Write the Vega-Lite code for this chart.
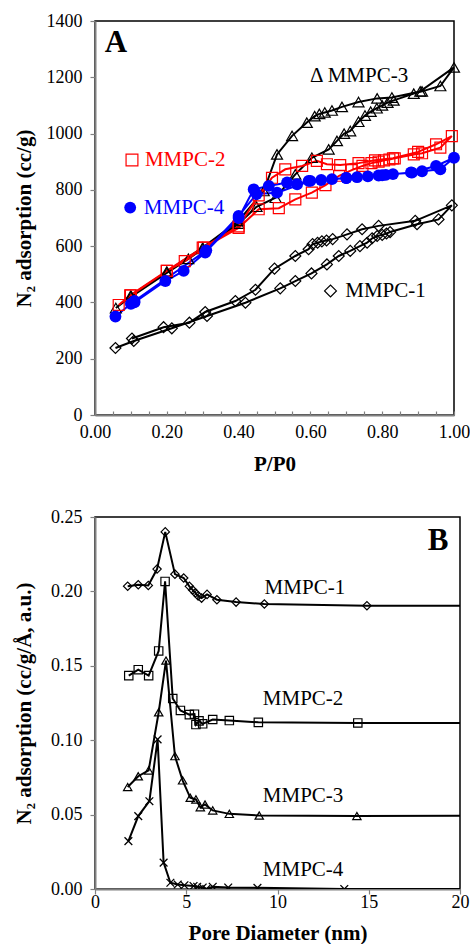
{
 "$schema": "https://vega.github.io/schema/vega-lite/v6.json",
 "padding": {"left": 12, "top": 11, "right": 5, "bottom": 0},
 "bounds": "flush",
 "spacing": 102,
 "config": {
  "font": "Liberation Serif",
  "view": {"stroke": "black", "strokeWidth": 1.5},
  "axis": {"grid": false, "labelFlush": false, "labelFont": "Liberation Serif", "titleFont": "Liberation Serif", "labelFontSize": 18, "titleFontSize": 21, "titleFontWeight": "bold", "labelColor": "black", "titleColor": "black", "domainColor": "#808080", "domainWidth": 2, "tickColor": "#808080", "tickWidth": 1.2, "tickSize": 5},
  "axisY": {"labelPadding": 8, "titleBaseline": "middle", "titleX": -71},
  "text": {"font": "Liberation Serif"}
 },
 "datasets": {
  "a": [
   {"s":"MMPC-1","i":1,"P":0.057,"v":238},{"s":"MMPC-1","i":2,"P":0.108,"v":263},{"s":"MMPC-1","i":3,"P":0.214,"v":308},{"s":"MMPC-1","i":4,"P":0.312,"v":352},{"s":"MMPC-1","i":5,"P":0.419,"v":399},{"s":"MMPC-1","i":6,"P":0.516,"v":450},{"s":"MMPC-1","i":7,"P":0.558,"v":476},{"s":"MMPC-1","i":8,"P":0.603,"v":503},{"s":"MMPC-1","i":9,"P":0.646,"v":535},{"s":"MMPC-1","i":10,"P":0.679,"v":565},{"s":"MMPC-1","i":11,"P":0.711,"v":583},{"s":"MMPC-1","i":12,"P":0.738,"v":600},{"s":"MMPC-1","i":13,"P":0.758,"v":612},{"s":"MMPC-1","i":14,"P":0.772,"v":628},{"s":"MMPC-1","i":15,"P":0.786,"v":636},{"s":"MMPC-1","i":16,"P":0.800,"v":640},{"s":"MMPC-1","i":17,"P":0.812,"v":645},{"s":"MMPC-1","i":18,"P":0.822,"v":650},{"s":"MMPC-1","i":19,"P":0.897,"v":678},{"s":"MMPC-1","i":20,"P":0.957,"v":695},{"s":"MMPC-1","i":21,"P":0.994,"v":745},{"s":"MMPC-1","i":22,"P":0.892,"v":690},{"s":"MMPC-1","i":23,"P":0.790,"v":672},{"s":"MMPC-1","i":24,"P":0.744,"v":660},{"s":"MMPC-1","i":25,"P":0.702,"v":642},{"s":"MMPC-1","i":26,"P":0.662,"v":625},{"s":"MMPC-1","i":27,"P":0.645,"v":620},{"s":"MMPC-1","i":28,"P":0.632,"v":617},{"s":"MMPC-1","i":29,"P":0.620,"v":612},{"s":"MMPC-1","i":30,"P":0.606,"v":607},{"s":"MMPC-1","i":31,"P":0.595,"v":589},{"s":"MMPC-1","i":32,"P":0.558,"v":565},{"s":"MMPC-1","i":33,"P":0.500,"v":520},{"s":"MMPC-1","i":34,"P":0.447,"v":445},{"s":"MMPC-1","i":35,"P":0.391,"v":405},{"s":"MMPC-1","i":36,"P":0.307,"v":366},{"s":"MMPC-1","i":37,"P":0.263,"v":328},{"s":"MMPC-1","i":38,"P":0.191,"v":312},{"s":"MMPC-1","i":39,"P":0.103,"v":272},
   {"s":"MMPC-3","i":1,"P":0.058,"v":380},{"s":"MMPC-3","i":2,"P":0.100,"v":420},{"s":"MMPC-3","i":3,"P":0.200,"v":505},{"s":"MMPC-3","i":4,"P":0.260,"v":555},{"s":"MMPC-3","i":5,"P":0.300,"v":590},{"s":"MMPC-3","i":6,"P":0.400,"v":680},{"s":"MMPC-3","i":7,"P":0.450,"v":740},{"s":"MMPC-3","i":8,"P":0.503,"v":772},{"s":"MMPC-3","i":9,"P":0.558,"v":855},{"s":"MMPC-3","i":10,"P":0.604,"v":914},{"s":"MMPC-3","i":11,"P":0.651,"v":944},{"s":"MMPC-3","i":12,"P":0.674,"v":974},{"s":"MMPC-3","i":13,"P":0.694,"v":1000},{"s":"MMPC-3","i":14,"P":0.711,"v":1009},{"s":"MMPC-3","i":15,"P":0.734,"v":1042},{"s":"MMPC-3","i":16,"P":0.752,"v":1064},{"s":"MMPC-3","i":17,"P":0.768,"v":1078},{"s":"MMPC-3","i":18,"P":0.785,"v":1090},{"s":"MMPC-3","i":19,"P":0.800,"v":1100},{"s":"MMPC-3","i":20,"P":0.815,"v":1110},{"s":"MMPC-3","i":21,"P":0.832,"v":1118},{"s":"MMPC-3","i":22,"P":0.888,"v":1142},{"s":"MMPC-3","i":23,"P":0.911,"v":1150},{"s":"MMPC-3","i":24,"P":0.962,"v":1169},{"s":"MMPC-3","i":25,"P":1.000,"v":1235},{"s":"MMPC-3","i":26,"P":0.906,"v":1150},{"s":"MMPC-3","i":27,"P":0.827,"v":1128},{"s":"MMPC-3","i":28,"P":0.786,"v":1125},{"s":"MMPC-3","i":29,"P":0.734,"v":1112},{"s":"MMPC-3","i":30,"P":0.688,"v":1095},{"s":"MMPC-3","i":31,"P":0.660,"v":1082},{"s":"MMPC-3","i":32,"P":0.640,"v":1075},{"s":"MMPC-3","i":33,"P":0.625,"v":1070},{"s":"MMPC-3","i":34,"P":0.612,"v":1062},{"s":"MMPC-3","i":35,"P":0.590,"v":1039},{"s":"MMPC-3","i":36,"P":0.549,"v":992},{"s":"MMPC-3","i":37,"P":0.507,"v":926},{"s":"MMPC-3","i":38,"P":0.470,"v":796},{"s":"MMPC-3","i":39,"P":0.400,"v":690},{"s":"MMPC-3","i":40,"P":0.300,"v":595},{"s":"MMPC-3","i":41,"P":0.200,"v":510},{"s":"MMPC-3","i":42,"P":0.100,"v":425},
   {"s":"MMPC-2","i":1,"P":0.066,"v":391},{"s":"MMPC-2","i":2,"P":0.098,"v":425},{"s":"MMPC-2","i":3,"P":0.200,"v":512},{"s":"MMPC-2","i":4,"P":0.250,"v":547},{"s":"MMPC-2","i":5,"P":0.303,"v":595},{"s":"MMPC-2","i":6,"P":0.400,"v":665},{"s":"MMPC-2","i":7,"P":0.456,"v":731},{"s":"MMPC-2","i":8,"P":0.512,"v":735},{"s":"MMPC-2","i":9,"P":0.558,"v":766},{"s":"MMPC-2","i":10,"P":0.604,"v":790},{"s":"MMPC-2","i":11,"P":0.642,"v":817},{"s":"MMPC-2","i":12,"P":0.680,"v":850},{"s":"MMPC-2","i":13,"P":0.715,"v":870},{"s":"MMPC-2","i":14,"P":0.745,"v":885},{"s":"MMPC-2","i":15,"P":0.770,"v":895},{"s":"MMPC-2","i":16,"P":0.790,"v":900},{"s":"MMPC-2","i":17,"P":0.805,"v":905},{"s":"MMPC-2","i":18,"P":0.820,"v":908},{"s":"MMPC-2","i":19,"P":0.835,"v":912},{"s":"MMPC-2","i":20,"P":0.888,"v":926},{"s":"MMPC-2","i":21,"P":0.911,"v":930},{"s":"MMPC-2","i":22,"P":0.962,"v":950},{"s":"MMPC-2","i":23,"P":0.994,"v":991},{"s":"MMPC-2","i":24,"P":0.950,"v":962},{"s":"MMPC-2","i":25,"P":0.900,"v":935},{"s":"MMPC-2","i":26,"P":0.830,"v":912},{"s":"MMPC-2","i":27,"P":0.780,"v":905},{"s":"MMPC-2","i":28,"P":0.734,"v":895},{"s":"MMPC-2","i":29,"P":0.683,"v":888},{"s":"MMPC-2","i":30,"P":0.646,"v":891},{"s":"MMPC-2","i":31,"P":0.618,"v":903},{"s":"MMPC-2","i":32,"P":0.577,"v":885},{"s":"MMPC-2","i":33,"P":0.530,"v":873},{"s":"MMPC-2","i":34,"P":0.493,"v":843},{"s":"MMPC-2","i":35,"P":0.456,"v":780},{"s":"MMPC-2","i":36,"P":0.400,"v":670},{"s":"MMPC-2","i":37,"P":0.300,"v":595},{"s":"MMPC-2","i":38,"P":0.200,"v":512},{"s":"MMPC-2","i":39,"P":0.100,"v":425},
   {"s":"MMPC-4","i":1,"P":0.057,"v":350},{"s":"MMPC-4","i":2,"P":0.100,"v":395},{"s":"MMPC-4","i":3,"P":0.110,"v":400},{"s":"MMPC-4","i":4,"P":0.196,"v":476},{"s":"MMPC-4","i":5,"P":0.247,"v":512},{"s":"MMPC-4","i":6,"P":0.307,"v":577},{"s":"MMPC-4","i":7,"P":0.400,"v":700},{"s":"MMPC-4","i":8,"P":0.442,"v":802},{"s":"MMPC-4","i":9,"P":0.484,"v":814},{"s":"MMPC-4","i":10,"P":0.535,"v":826},{"s":"MMPC-4","i":11,"P":0.563,"v":820},{"s":"MMPC-4","i":12,"P":0.595,"v":832},{"s":"MMPC-4","i":13,"P":0.630,"v":835},{"s":"MMPC-4","i":14,"P":0.660,"v":838},{"s":"MMPC-4","i":15,"P":0.700,"v":842},{"s":"MMPC-4","i":16,"P":0.730,"v":845},{"s":"MMPC-4","i":17,"P":0.760,"v":848},{"s":"MMPC-4","i":18,"P":0.790,"v":851},{"s":"MMPC-4","i":19,"P":0.810,"v":853},{"s":"MMPC-4","i":20,"P":0.830,"v":856},{"s":"MMPC-4","i":21,"P":0.883,"v":861},{"s":"MMPC-4","i":22,"P":0.911,"v":866},{"s":"MMPC-4","i":23,"P":0.962,"v":873},{"s":"MMPC-4","i":24,"P":1.000,"v":914},{"s":"MMPC-4","i":25,"P":0.950,"v":885},{"s":"MMPC-4","i":26,"P":0.880,"v":862},{"s":"MMPC-4","i":27,"P":0.800,"v":852},{"s":"MMPC-4","i":28,"P":0.700,"v":842},{"s":"MMPC-4","i":29,"P":0.600,"v":832},{"s":"MMPC-4","i":30,"P":0.507,"v":790},{"s":"MMPC-4","i":31,"P":0.450,"v":785},{"s":"MMPC-4","i":32,"P":0.400,"v":707},{"s":"MMPC-4","i":33,"P":0.310,"v":585},{"s":"MMPC-4","i":34,"P":0.110,"v":405}
  ],
  "alab": [
   {"s":"MMPC-2","t":"MMPC-2","P":0.103,"v":906,"tp":0.139},
   {"s":"MMPC-4","t":"MMPC-4","P":0.098,"v":737,"tp":0.136},
   {"s":"MMPC-1","t":"MMPC-1","P":0.656,"v":441,"tp":0.697}
  ],
  "b": [
   {"s":"MMPC-1","d":1.79,"v":0.2035},{"s":"MMPC-1","d":2.37,"v":0.2045},{"s":"MMPC-1","d":2.92,"v":0.204},{"s":"MMPC-1","d":3.40,"v":0.215},{"s":"MMPC-1","d":3.85,"v":0.240},{"s":"MMPC-1","d":4.38,"v":0.2116},{"s":"MMPC-1","d":4.86,"v":0.209},{"s":"MMPC-1","d":5.17,"v":0.2034},{"s":"MMPC-1","d":5.35,"v":0.201},{"s":"MMPC-1","d":5.5,"v":0.199},{"s":"MMPC-1","d":5.65,"v":0.197},{"s":"MMPC-1","d":5.84,"v":0.1955},{"s":"MMPC-1","d":6.14,"v":0.198},{"s":"MMPC-1","d":6.68,"v":0.1944},{"s":"MMPC-1","d":7.73,"v":0.1928},{"s":"MMPC-1","d":9.28,"v":0.1915},{"s":"MMPC-1","d":14.9,"v":0.1904},{"s":"MMPC-1","d":30,"v":0.1902},
   {"s":"MMPC-2","d":1.85,"v":0.1434},{"s":"MMPC-2","d":2.37,"v":0.1474},{"s":"MMPC-2","d":2.94,"v":0.1434},{"s":"MMPC-2","d":3.49,"v":0.160},{"s":"MMPC-2","d":3.84,"v":0.2067},{"s":"MMPC-2","d":4.26,"v":0.128},{"s":"MMPC-2","d":4.68,"v":0.120},{"s":"MMPC-2","d":5.17,"v":0.1172},{"s":"MMPC-2","d":5.45,"v":0.1175},{"s":"MMPC-2","d":5.53,"v":0.1105},{"s":"MMPC-2","d":5.7,"v":0.113},{"s":"MMPC-2","d":5.9,"v":0.111},{"s":"MMPC-2","d":6.45,"v":0.1139},{"s":"MMPC-2","d":7.36,"v":0.1132},{"s":"MMPC-2","d":8.95,"v":0.112},{"s":"MMPC-2","d":14.4,"v":0.1116},{"s":"MMPC-2","d":30,"v":0.1115},
   {"s":"MMPC-3","d":1.79,"v":0.0685},{"s":"MMPC-3","d":2.37,"v":0.0758},{"s":"MMPC-3","d":2.94,"v":0.0797},{"s":"MMPC-3","d":3.49,"v":0.1188},{"s":"MMPC-3","d":3.89,"v":0.1535},{"s":"MMPC-3","d":4.38,"v":0.0893},{"s":"MMPC-3","d":4.8,"v":0.073},{"s":"MMPC-3","d":5.22,"v":0.0613},{"s":"MMPC-3","d":5.53,"v":0.0602},{"s":"MMPC-3","d":5.77,"v":0.055},{"s":"MMPC-3","d":6.03,"v":0.0568},{"s":"MMPC-3","d":6.45,"v":0.0528},{"s":"MMPC-3","d":7.36,"v":0.0505},{"s":"MMPC-3","d":9.0,"v":0.0494},{"s":"MMPC-3","d":14.35,"v":0.049},{"s":"MMPC-3","d":30,"v":0.0495},
   {"s":"MMPC-4","d":1.83,"v":0.0322},{"s":"MMPC-4","d":2.37,"v":0.049},{"s":"MMPC-4","d":2.98,"v":0.059},{"s":"MMPC-4","d":3.43,"v":0.1005},{"s":"MMPC-4","d":3.76,"v":0.0177},{"s":"MMPC-4","d":4.13,"v":0.0042},{"s":"MMPC-4","d":4.53,"v":0.003},{"s":"MMPC-4","d":4.9,"v":0.0025},{"s":"MMPC-4","d":5.4,"v":0.002},{"s":"MMPC-4","d":5.6,"v":0.0015},{"s":"MMPC-4","d":5.9,"v":0.001},{"s":"MMPC-4","d":6.1,"v":0.0},{"s":"MMPC-4","d":6.45,"v":0.0015},{"s":"MMPC-4","d":7.3,"v":0.001},{"s":"MMPC-4","d":8.9,"v":0.0008},{"s":"MMPC-4","d":13.66,"v":0.0},{"s":"MMPC-4","d":30,"v":0.0}
  ],
  "blab": [
   {"t":"MMPC-1","d":11.5,"v":0.202},
   {"t":"MMPC-2","d":11.4,"v":0.128},
   {"t":"MMPC-3","d":11.4,"v":0.0624},
   {"t":"MMPC-4","d":11.4,"v":0.0128}
  ]
 },
 "vconcat": [
  {
   "width": 359,
   "height": 394,
   "encoding": {
    "x": {"field": "P", "type": "quantitative", "scale": {"domain": [0, 1], "nice": false}, "axis": {"title": "P/P0", "values": [0,0.05,0.1,0.15,0.2,0.25,0.3,0.35,0.4,0.45,0.5,0.55,0.6,0.65,0.7,0.75,0.8,0.85,0.9,0.95,1], "labelExpr": "abs(datum.value*5 - round(datum.value*5)) < 0.001 ? format(datum.value, '.2f') : ''", "tickSize": -4, "labelPadding": 12, "titlePadding": 12}},
    "y": {"field": "v", "type": "quantitative", "scale": {"domain": [0, 1400], "nice": false}, "axis": {"title": "N₂ adsorption (cc/g)", "values": [0,200,400,600,800,1000,1200,1400], "format": "d", "titleY": 197}}
   },
   "layer": [
    {
     "data": {"name": "a"},
     "mark": {"type": "line", "strokeWidth": 2},
     "encoding": {
      "detail": {"field": "s"},
      "order": {"field": "i", "type": "quantitative"},
      "color": {"field": "s", "type": "nominal", "scale": {"domain": ["MMPC-1","MMPC-2","MMPC-3","MMPC-4"], "range": ["black","#ff0000","black","#0000ff"]}, "legend": null}
     }
    },
    {
     "data": {"name": "a"},
     "transform": [{"filter": "datum.s !== 'MMPC-4'"}],
     "mark": {"type": "point", "filled": false, "size": 120, "strokeWidth": 1.2, "opacity": 1},
     "encoding": {
      "shape": {"field": "s", "type": "nominal", "scale": {"domain": ["MMPC-1","MMPC-2","MMPC-3","MMPC-4"], "range": ["diamond","square","triangle-up","circle"]}, "legend": null},
      "color": {"field": "s", "type": "nominal", "legend": null}
     }
    },
    {
     "data": {"name": "a"},
     "transform": [{"filter": "datum.s === 'MMPC-4'"}],
     "mark": {"type": "point", "filled": true, "size": 140, "opacity": 1, "shape": "circle"},
     "encoding": {
      "color": {"field": "s", "type": "nominal", "legend": null}
     }
    },
    {
     "data": {"name": "alab"},
     "transform": [{"filter": "datum.s !== 'MMPC-4'"}],
     "mark": {"type": "point", "filled": false, "size": 140, "strokeWidth": 1.2, "opacity": 1},
     "encoding": {
      "shape": {"field": "s", "type": "nominal", "legend": null},
      "color": {"field": "s", "type": "nominal", "legend": null}
     }
    },
    {
     "data": {"name": "alab"},
     "transform": [{"filter": "datum.s === 'MMPC-4'"}],
     "mark": {"type": "point", "filled": true, "size": 140, "opacity": 1, "shape": "circle"},
     "encoding": {
      "color": {"field": "s", "type": "nominal", "legend": null}
     }
    },
    {
     "data": {"name": "alab"},
     "mark": {"type": "text", "align": "left", "baseline": "middle", "fontSize": 21, "font": "Liberation Serif"},
     "encoding": {
      "x": {"field": "tp", "type": "quantitative"},
      "text": {"field": "t"},
      "color": {"field": "s", "type": "nominal", "legend": null}
     }
    },
    {
     "data": {"values": [{"t": "Δ MMPC-3", "P": 0.599, "v": 1203}]},
     "mark": {"type": "text", "align": "left", "baseline": "middle", "fontSize": 21, "font": "Liberation Serif", "color": "black"},
     "encoding": {"text": {"field": "t"}}
    },
    {
     "data": {"values": [{"t": "A", "P": 0.058, "v": 1322}]},
     "mark": {"type": "text", "align": "center", "baseline": "middle", "fontSize": 31, "fontWeight": "bold", "font": "Liberation Serif", "color": "black"},
     "encoding": {"text": {"field": "t"}}
    }
   ]
  },
  {
   "width": 365,
   "height": 372,
   "encoding": {
    "x": {"field": "d", "type": "quantitative", "scale": {"domain": [0, 20], "nice": false}, "axis": {"title": "Pore Diameter (nm)", "values": [0,5,10,15,20], "labelPadding": -1, "titlePadding": 11}},
    "y": {"field": "v", "type": "quantitative", "scale": {"domain": [0, 0.25], "nice": false}, "axis": {"title": "N₂ adsorption (cc/g/Å, a.u.)", "values": [0,0.05,0.1,0.15,0.2,0.25], "format": ".2f", "titleY": 186}}
   },
   "layer": [
    {
     "data": {"name": "b"},
     "mark": {"type": "line", "strokeWidth": 2, "color": "black", "clip": true},
     "encoding": {"detail": {"field": "s"}, "order": {"field": "d", "type": "quantitative"}}
    },
    {
     "data": {"name": "b"},
     "transform": [{"filter": "datum.s !== 'MMPC-4'"}],
     "mark": {"type": "point", "filled": false, "size": 70, "strokeWidth": 1.2, "color": "black", "opacity": 1, "clip": true},
     "encoding": {
      "shape": {"field": "s", "type": "nominal", "scale": {"domain": ["MMPC-1","MMPC-2","MMPC-3","MMPC-4"], "range": ["diamond","square","triangle-up","M-1,-1L1,1M-1,1L1,-1"]}, "legend": null}
     }
    },
    {
     "data": {"name": "b"},
     "transform": [{"filter": "datum.s === 'MMPC-4'"}],
     "mark": {"type": "point", "filled": false, "size": 60, "strokeWidth": 1.3, "color": "black", "opacity": 1, "clip": true, "shape": "M-1,-1L1,1M-1,1L1,-1"},
     "encoding": {}
    },
    {
     "data": {"name": "blab"},
     "mark": {"type": "text", "align": "center", "baseline": "middle", "fontSize": 21, "font": "Liberation Serif", "color": "black"},
     "encoding": {"text": {"field": "t"}}
    },
    {
     "data": {"values": [{"t": "B", "d": 18.8, "v": 0.234}]},
     "mark": {"type": "text", "align": "center", "baseline": "middle", "fontSize": 31, "fontWeight": "bold", "font": "Liberation Serif", "color": "black"},
     "encoding": {"text": {"field": "t"}}
    }
   ]
  }
 ]
}
